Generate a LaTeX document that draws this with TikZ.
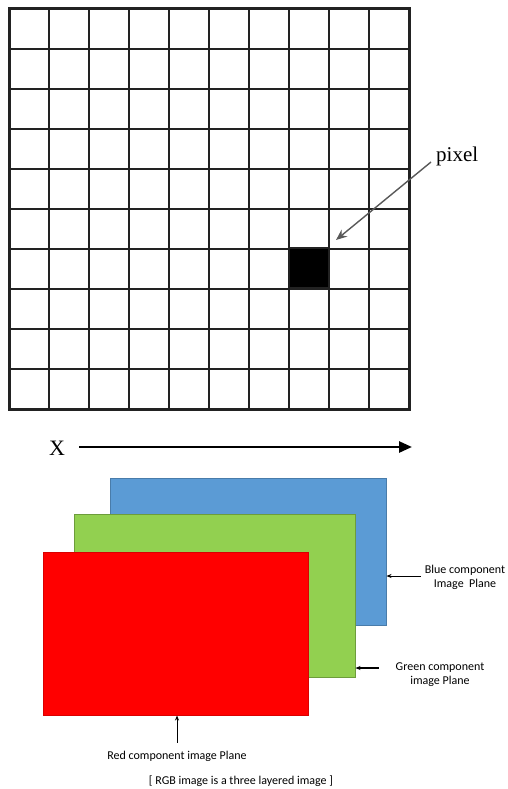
\documentclass[tikz,border=0pt]{standalone}
\usepackage{fontspec}
\newfontfamily\labfont{Carlito}
\newfontfamily\serfont{Liberation Serif}
\usetikzlibrary{arrows.meta}
\definecolor{blueC}{HTML}{5B9BD5}
\definecolor{greenC}{HTML}{92D050}
\definecolor{redC}{HTML}{FF0000}
\definecolor{gridC}{HTML}{222222}
\tikzset{
  gridline/.style={draw=gridC, line width=1.3pt},
  pixelbox/.style={fill=black, draw=gridC, line width=1.3pt, minimum width=40pt, minimum height=40pt, inner sep=0pt},
  pixarrow/.style={draw=black!65, line width=1.4pt, -{Stealth[length=11pt,width=9pt]}},
  xarrow/.style={draw=black, line width=2.6pt, -{Triangle[length=13pt,width=11pt]}},
  plane/.style={anchor=north west, inner sep=0pt, line width=0.5pt},
  planelab/.style={font=\labfont\fontsize{12}{14}\selectfont, align=center, inner sep=2pt},
  smallarrow/.style={draw=black, line width=0.9pt, -{Stealth[length=5pt,width=4pt]}},
}
\begin{document}
\begin{tikzpicture}[x=1pt,y=-1pt]
\useasboundingbox (0,0) rectangle (508,789);
\fill[white] (0,0) rectangle (508,789);
% grid
\foreach \i in {1,...,9} {
  \draw[gridline] (9+40*\i,9) -- (9+40*\i,409);
  \draw[gridline] (9,9+40*\i) -- (409,9+40*\i);
}
\node[pixelbox] (pix) at (309,268) {};
\draw[draw=gridC, line width=3pt] (9,9) rectangle (409,409);
% pixel label
\node[font=\serfont\fontsize{21}{23}\selectfont, anchor=west, inner sep=2pt] (pixlab) at (434,156) {pixel};
\coordinate (pixtip) at (336,240);
\draw[pixarrow] ([xshift=-3pt,yshift=-6pt]pixlab.west) -- (pixtip);
% X axis
\node[font=\serfont\fontsize{22}{24}\selectfont, inner sep=0pt] (xlab) at (57,448) {X};
\coordinate (xtip) at (412,447);
\draw[xarrow] ([xshift=14pt]xlab.east |- xtip) -- (xtip);
% planes
\node[plane, fill=blueC, draw=blueC!80!black, minimum width=276pt, minimum height=147pt] (blue) at (110,478) {};
\node[plane, fill=greenC, draw=greenC!75!black, minimum width=281pt, minimum height=163pt] (green) at (74,514) {};
\node[plane, fill=redC, draw=redC!85!black, minimum width=265pt, minimum height=163pt] (red) at (43,552) {};
% labels
\node[planelab] (bluelab) at (465,577) {Blue component\\Image\ \ Plane};
\draw[smallarrow, line width=0.7pt] ([xshift=-2pt,yshift=1pt]bluelab.west) -- ([yshift=1pt]bluelab.west -| blue.east);
\node[planelab] (greenlab) at (440,675) {Green component\\image Plane};
\draw[smallarrow, line width=1.1pt] ([xshift=-15pt,yshift=7pt]greenlab.west) -- ([yshift=7pt]greenlab.west -| green.east);
\node[planelab] (redlab) at (177,756) {Red component image Plane};
\draw[smallarrow] ([yshift=6pt]redlab.north) -- (redlab.north |- red.south);
\node[planelab] (caption) at (241,781) {[ RGB image is a three layered image ]};
\end{tikzpicture}
\end{document}
